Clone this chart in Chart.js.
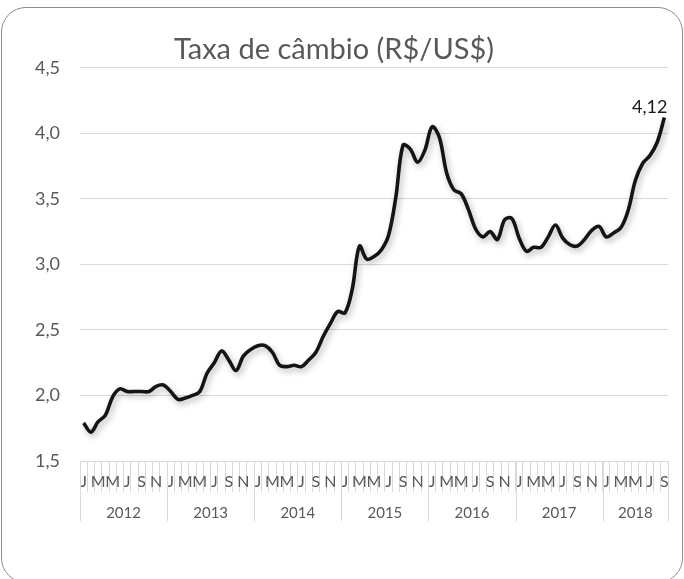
<!DOCTYPE html>
<html>
<head>
<meta charset="utf-8">
<title>Taxa de câmbio</title>
<script src="https://cdn.jsdelivr.net/npm/chart.js@4.4.0/dist/chart.umd.min.js"></script>
<style>
  html, body { margin: 0; padding: 0; background: #fff; }
  #wrap { position: relative; width: 684px; height: 579px; overflow: hidden; }
  #frame {
    position: absolute; left: 1px; top: 7px; width: 682px; height: 576px;
    box-sizing: border-box; border: 1.5px solid #8c8c8c; border-radius: 25px;
  }
  #chart { position: absolute; left: 0; top: 0; }
</style>
</head>
<body>
<div id="wrap">
  <div id="frame"></div>
  <canvas id="chart" width="684" height="579"></canvas>
</div>
<script>
// monthly averages, R$ per US$
const years = ['2012', '2013', '2014', '2015', '2016', '2017', '2018'];
const monthInitials = ['J', 'F', 'M', 'A', 'M', 'J', 'J', 'A', 'S', 'O', 'N', 'D'];

const rate2012 = [1.79, 1.72, 1.80, 1.85, 1.99, 2.05, 2.03, 2.03, 2.03, 2.03, 2.07, 2.08];
const rate2013 = [2.03, 1.97, 1.98, 2.00, 2.03, 2.17, 2.25, 2.34, 2.27, 2.19, 2.30, 2.35];
const rate2014 = [2.38, 2.38, 2.33, 2.23, 2.22, 2.23, 2.22, 2.27, 2.33, 2.45, 2.55, 2.64];
const rate2015 = [2.63, 2.81, 3.14, 3.04, 3.06, 3.11, 3.22, 3.51, 3.91, 3.88, 3.78, 3.87];
const rate2016 = [4.05, 3.97, 3.70, 3.57, 3.54, 3.42, 3.27, 3.21, 3.25, 3.19, 3.34, 3.35];
const rate2017 = [3.20, 3.10, 3.13, 3.13, 3.21, 3.30, 3.20, 3.15, 3.14, 3.19, 3.26, 3.29];
const rate2018 = [3.21, 3.24, 3.28, 3.41, 3.64, 3.77, 3.83, 3.93, 4.12];

const yTicks = [1.5, 2.0, 2.5, 3.0, 3.5, 4.0, 4.5];

const ratesByYear = [rate2012, rate2013, rate2014, rate2015, rate2016, rate2017, rate2018];
const rates = ratesByYear.flat();
const labels = ratesByYear.flatMap(r => r.map((_, m) => monthInitials[m]));

const txt = '#595959';
const gridCol = '#d9d9d9';
const fam = 'Lato, "Open Sans", sans-serif';
const ptBR = v => v.toFixed(2).replace('.', ',');

// second label row: year groups under the months
const yearRow = {
  id: 'yearRow',
  afterDraw(chart) {
    const xs = chart.scales.x;
    const ctx = chart.ctx;
    const half = (xs.getPixelForValue(1) - xs.getPixelForValue(0)) / 2;
    const top = xs.top;
    ctx.save();
    ctx.strokeStyle = gridCol;
    ctx.lineWidth = 1;
    ctx.fillStyle = txt;
    ctx.font = '15px ' + fam;
    ctx.textAlign = 'center';
    ctx.textBaseline = 'middle';
    let start = 0;
    ratesByYear.forEach((r, k) => {
      const left = xs.getPixelForValue(start) - half;
      const right = xs.getPixelForValue(start + r.length - 1) + half;
      ctx.beginPath();
      ctx.moveTo(Math.round(left) + 0.5, top);
      ctx.lineTo(Math.round(left) + 0.5, top + 60);
      if (k === ratesByYear.length - 1) {
        ctx.moveTo(Math.round(right) + 0.5, top);
        ctx.lineTo(Math.round(right) + 0.5, top + 60);
      }
      ctx.stroke();
      ctx.fillText(years[k], (left + right) / 2, top + 52);
      start += r.length;
    });
    ctx.restore();
  }
};

// soft drop shadow under the line, plus the value on the last point
const lineDecor = {
  id: 'lineDecor',
  beforeDatasetDraw(chart) {
    const ctx = chart.ctx;
    ctx.save();
    ctx.shadowColor = 'rgba(0,0,0,0.3)';
    ctx.shadowBlur = 6;
    ctx.shadowOffsetX = 2;
    ctx.shadowOffsetY = 3;
  },
  afterDatasetDraw(chart) {
    chart.ctx.restore();
  },
  afterDatasetsDraw(chart) {
    const meta = chart.getDatasetMeta(0);
    const i = rates.length - 1;
    const pt = meta.data[i];
    const ctx = chart.ctx;
    ctx.save();
    ctx.fillStyle = '#1a1a1a';
    ctx.font = '18px ' + fam;
    ctx.textAlign = 'right';
    ctx.textBaseline = 'alphabetic';
    ctx.fillText(ptBR(rates[i]), pt.x + 3, pt.y - 5);
    ctx.restore();
  }
};

new Chart(document.getElementById('chart'), {
  type: 'line',
  data: {
    labels: labels,
    datasets: [{
      data: rates,
      borderColor: '#141414',
      borderWidth: 3.6,
      tension: 0.35,
      pointRadius: 0,
      fill: false
    }]
  },
  options: {
    responsive: false,
    animation: false,
    devicePixelRatio: 1,
    layout: { padding: { left: 0, right: 16, top: 0, bottom: 0 } },
    plugins: {
      legend: { display: false },
      tooltip: { enabled: false },
      title: {
        display: true,
        text: 'Taxa de câmbio (R$/US$)',
        color: txt,
        font: { family: fam, size: 29, weight: 'normal' },
        padding: { top: 32, bottom: 1 }
      }
    },
    scales: {
      y: {
        min: 1.5,
        max: 4.5,
        afterBuildTicks: s => { s.ticks = yTicks.map(v => ({ value: v })); },
        afterFit: s => { s.width = 80; },
        ticks: {
          color: txt,
          font: { family: fam, size: 18 },
          padding: 20,
          callback: v => v.toFixed(1).replace('.', ',')
        },
        grid: { color: gridCol, lineWidth: 1, drawTicks: false },
        border: { display: false }
      },
      x: {
        type: 'category',
        offset: true,
        afterFit: s => { s.height = 118; },
        ticks: {
          autoSkip: false,
          maxRotation: 0,
          minRotation: 0,
          color: txt,
          font: { family: fam, size: 16 },
          padding: -20,
          callback: (v, i) => (i % 2 === 0 ? labels[i] : '')
        },
        grid: {
          offset: true,
          drawOnChartArea: false,
          drawTicks: true,
          tickLength: 31,
          color: gridCol,
          lineWidth: 1
        },
        border: { display: true, color: gridCol }
      }
    }
  },
  plugins: [yearRow, lineDecor]
});
</script>
</body>
</html>
